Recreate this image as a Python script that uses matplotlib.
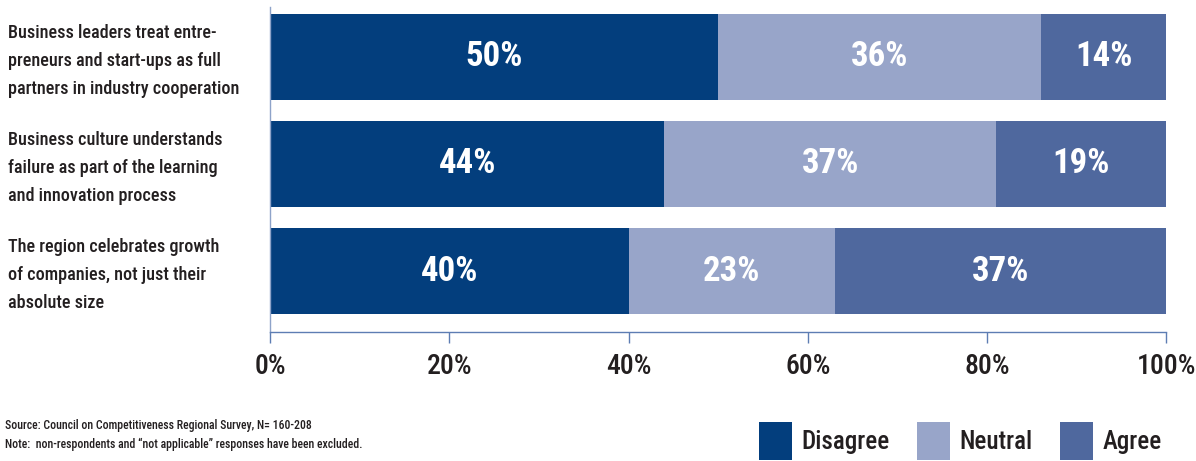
import matplotlib
matplotlib.use("Agg")
import matplotlib.pyplot as plt
import matplotlib.transforms as mtransforms
from matplotlib.patches import Patch
import numpy as np

# survey answers, share of respondents in percent
statements = [
    "Business leaders treat entre-\npreneurs and start-ups as full\npartners in industry cooperation",
    "Business culture understands\nfailure as part of the learning\nand innovation process",
    "The region celebrates growth\nof companies, not just their\nabsolute size",
]
disagree = [50, 44, 40]
neutral = [36, 37, 23]
agree = [14, 19, 37]

series_names = ["Disagree", "Neutral", "Agree"]
series_colors = ["#033e7d", "#98a5c9", "#4f689e"]
x_ticks = [0, 20, 40, 60, 80, 100]
x_tick_labels = ["0%", "20%", "40%", "60%", "80%", "100%"]

source_note = "Source: Council on Competitiveness Regional Survey, N= 160-208"
excl_note = "Note:  non-respondents and \u201cnot applicable\u201d responses have been excluded."

plt.rcParams["font.family"] = ["Roboto Condensed", "Liberation Sans Narrow", "DejaVu Sans"]
plt.rcParams["font.weight"] = "medium"
text_col = "#231f20"
axis_col = "#5d7db3"


def main():
    fig = plt.figure(figsize=(11.96, 4.61), dpi=100)
    ax = fig.add_axes([0.2258, 0.2798, 0.7495, 0.7050])

    y = np.arange(len(statements))
    left = np.zeros(len(statements))
    for vals, name, col in zip([disagree, neutral, agree], series_names, series_colors):
        vals = np.array(vals, dtype=float)
        ax.barh(y, vals, left=left, height=0.81, color=col, label=name, linewidth=0)
        for yi, l, v in zip(y, left, vals):
            ax.text(l + v / 2, yi, f"{v:.0f}%", ha="center", va="center",
                    color="white", fontsize=25, fontweight="bold")
        left += vals

    ax.set_xlim(0, 100)
    ax.set_ylim(2.570, -0.467)
    ax.set_yticks([])
    ax.set_xticks(x_ticks)
    ax.set_xticklabels(x_tick_labels, fontsize=20, color=text_col)
    ax.tick_params(axis="x", direction="out", length=8, width=1, color=axis_col, pad=7)
    for s in ["top", "right"]:
        ax.spines[s].set_visible(False)
    for s in ["left", "bottom"]:
        ax.spines[s].set_color(axis_col)
        ax.spines[s].set_linewidth(1)
    ax.spines["left"].set_color("#8ea3c9")

    # statements on the left, one block per bar
    trans = mtransforms.blended_transform_factory(fig.transFigure, ax.transData)
    for yi, s in zip(y, statements):
        ax.text(8 / 1196, yi + 0.04, s, transform=trans, ha="left", va="center",
                fontsize=13.1, color=text_col, linespacing=1.72)

    fig.text(5 / 1196, 1 - 425 / 461, source_note, fontsize=8.5, color=text_col, va="center")
    fig.text(5 / 1196, 1 - 444 / 461, excl_note, fontsize=8.5, color=text_col, va="center")

    handles = [Patch(facecolor=c, edgecolor="none") for c in series_colors]
    fig.legend(handles, series_names, loc="upper left", bbox_to_anchor=(759 / 1196, 1 - 422 / 461),
               ncol=3, frameon=False, fontsize=18, handlelength=1.32, handleheight=1.95,
               handletextpad=0.36, columnspacing=1.12, borderpad=0, borderaxespad=0,
               labelcolor=text_col)

    fig.savefig("out.png", dpi=100)


if __name__ == "__main__":
    main()
